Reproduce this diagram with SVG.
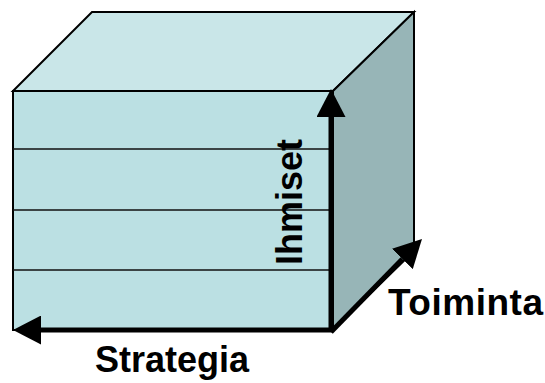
<svg xmlns="http://www.w3.org/2000/svg" width="545" height="383" viewBox="0 0 545 383">
  <style>
    .edge { stroke: #000; stroke-width: 2; stroke-linejoin: miter; }
    .rule { stroke: #111; stroke-width: 1.5; fill: none; }
    .axis { stroke: #000; stroke-width: 5; fill: none; }
    .label { font-family: "Liberation Sans", Arial, sans-serif; font-weight: bold; font-size: 36px; fill: #000; }
  </style>
  <defs>
    <marker id="head" viewBox="0 0 28 29" refX="0" refY="14.5" markerWidth="28" markerHeight="29" markerUnits="userSpaceOnUse" orient="auto">
      <path d="M0,0 L28,14.5 L0,29 z" fill="#000"/>
    </marker>
  </defs>

  <!-- cube -->
  <g id="cube">
    <polygon id="top-face" class="edge" fill="#C9E6E8" points="13,91 92,12 414,12 333,91"/>
    <polygon id="side-face" class="edge" fill="#97B5B7" points="333,91 414,12 414,251 333,330"/>
    <rect id="front-face" class="edge" fill="#BBE0E3" x="13" y="91" width="318" height="239"/>
    <line class="rule" x1="13" y1="149" x2="331" y2="149"/>
    <line class="rule" x1="13" y1="210" x2="331" y2="210"/>
    <line class="rule" x1="13" y1="270" x2="331" y2="270"/>
  </g>

  <!-- axes -->
  <g id="connectors">
    <path class="axis" d="M331,332 L331,117" marker-end="url(#head)"/>
    <path class="axis" d="M333,330 L41,330" marker-end="url(#head)"/>
    <path class="axis" d="M331,332 L402.4,259" marker-end="url(#head)"/>
  </g>

  <g id="label-ihmiset">
    <text class="label" transform="translate(302,265) rotate(-90)">Ihmiset</text>
  </g>
  <g id="label-toiminta">
    <text class="label" x="388" y="315" style="font-size:37px" textLength="155">Toiminta</text>
  </g>
  <g id="label-strategia">
    <text class="label" x="95" y="372">Strategia</text>
  </g>
</svg>
